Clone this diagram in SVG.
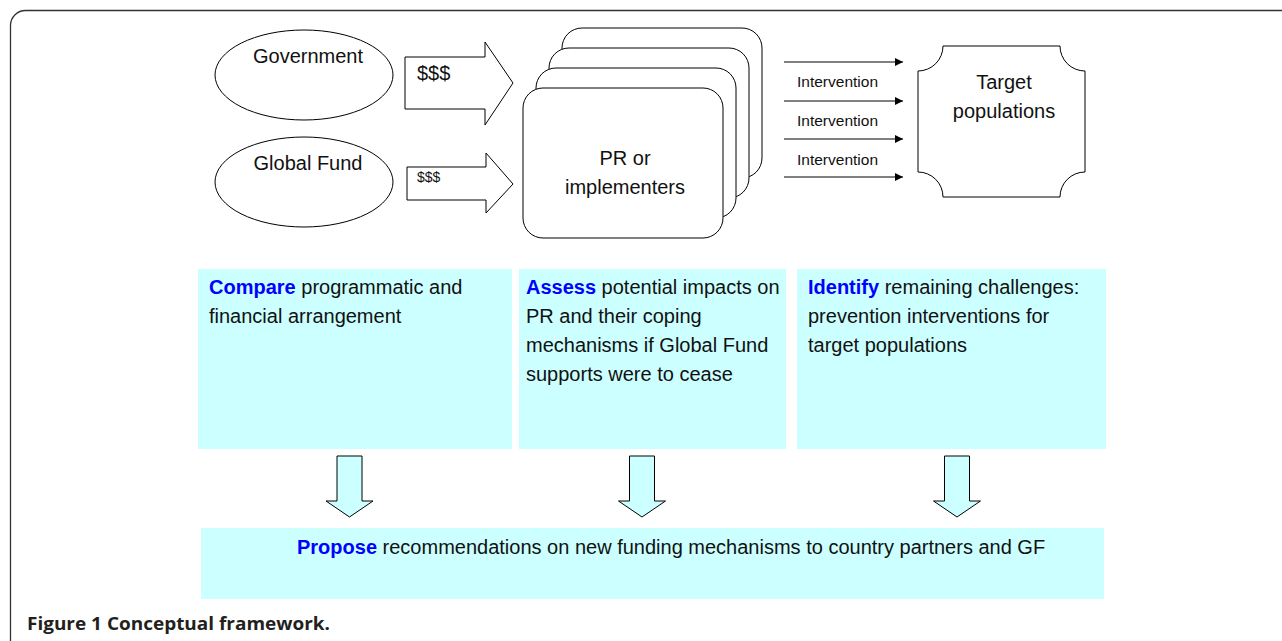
<svg xmlns="http://www.w3.org/2000/svg" width="1282" height="641" viewBox="0 0 1282 641">
<style>
text{font-family:"Liberation Sans",Arial,sans-serif;fill:#111}
.line{fill:none;stroke:#000;stroke-width:1}
.card{fill:#fff;stroke:#000;stroke-width:1}
.box{fill:#ccffff}
.darr{fill:#ccffff;stroke:#000;stroke-width:1}
.t20{font-size:20px}
.b{font-weight:bold;fill:#0000ff}
.iv{font-size:15.5px}
.cap{font-family:"Open Sans","Liberation Sans",sans-serif;font-weight:bold;font-size:17px;fill:#231f20}
</style>
<defs>
<marker id="ah" viewBox="0 0 10 10" refX="10" refY="5" markerWidth="9" markerHeight="8" markerUnits="userSpaceOnUse" orient="auto">
<path d="M0,0 L10,5 L0,10 Z" fill="#000"/>
</marker>
</defs>
<rect width="1282" height="641" fill="#fff"/>
<path d="M10.5,641 L10.5,25 A15,15 0 0 1 25.5,10.5 L1282,10.5" fill="none" stroke="#333" stroke-width="1.3"/>

<g id="government">
<ellipse class="card" cx="304" cy="75" rx="89" ry="45"/>
<text class="t20" x="308" y="63" text-anchor="middle">Government</text>
</g>
<g id="globalfund">
<ellipse class="card" cx="304" cy="182" rx="89" ry="45"/>
<text class="t20" x="308" y="170" text-anchor="middle">Global Fund</text>
</g>
<g id="pr">
<rect class="card" x="562" y="28" width="200" height="150" rx="20"/>
<rect class="card" x="549" y="48" width="200" height="150" rx="20"/>
<rect class="card" x="536" y="68" width="200" height="150" rx="20"/>
<rect class="card" x="523" y="88" width="200" height="150" rx="20"/>
<text class="t20" x="625" y="165" text-anchor="middle">PR or</text>
<text class="t20" x="625" y="194" text-anchor="middle">implementers</text>
</g>
<g id="target">
<path class="card" d="M943,46 L1060,46 A25,25 0 0 0 1085,71 L1085,172 A25,25 0 0 0 1060,197 L943,197 A25,25 0 0 0 918,172 L918,71 A25,25 0 0 0 943,46 Z"/>
<text class="t20" x="1004" y="89" text-anchor="middle">Target</text>
<text class="t20" x="1004" y="118" text-anchor="middle">populations</text>
</g>

<g id="connectors">
<path class="card" d="M405,57 L485,57 L485,42 L513,83 L485,125 L485,109 L405,109 Z"/>
<text class="t20" x="417" y="80">$$$</text>
<path class="card" d="M407,167 L486,167 L486,153 L513,184 L486,213 L486,200 L407,200 Z"/>
<text x="417" y="182" style="font-size:14px">$$$</text>
<line class="line" x1="784" y1="62" x2="903" y2="62" marker-end="url(#ah)"/>
<line class="line" x1="784" y1="101" x2="903" y2="101" marker-end="url(#ah)"/>
<line class="line" x1="784" y1="139" x2="903" y2="139" marker-end="url(#ah)"/>
<line class="line" x1="784" y1="177" x2="903" y2="177" marker-end="url(#ah)"/>
<text class="iv" x="797" y="87">Intervention</text>
<text class="iv" x="797" y="126">Intervention</text>
<text class="iv" x="797" y="165">Intervention</text>
<path class="darr" d="M337,456 L362,456 L362,501 L373,501 L349.5,517 L326,501 L337,501 Z"/>
<path class="darr" d="M629.5,456 L654.5,456 L654.5,501 L665.5,501 L642,517 L618.5,501 L629.5,501 Z"/>
<path class="darr" d="M944.5,456 L969.5,456 L969.5,501 L980.5,501 L957,517 L933.5,501 L944.5,501 Z"/>
</g>

<g id="compare">
<rect class="box" x="198" y="269" width="314" height="180"/>
<text class="t20" x="209" y="294"><tspan class="b">Compare</tspan> programmatic and</text>
<text class="t20" x="209" y="323">financial arrangement</text>
</g>
<g id="assess">
<rect class="box" x="519" y="269" width="267" height="180"/>
<text class="t20" x="526" y="294"><tspan class="b">Assess</tspan> potential impacts on</text>
<text class="t20" x="526" y="323">PR and their coping</text>
<text class="t20" x="526" y="352">mechanisms if Global Fund</text>
<text class="t20" x="526" y="381">supports were to cease</text>
</g>
<g id="identify">
<rect class="box" x="797" y="269" width="309" height="180"/>
<text class="t20" x="808" y="294"><tspan class="b">Identify</tspan> remaining challenges:</text>
<text class="t20" x="808" y="323">prevention interventions for</text>
<text class="t20" x="808" y="352">target populations</text>
</g>
<g id="propose">
<rect class="box" x="201" y="528" width="903" height="71"/>
<text class="t20" x="297" y="554"><tspan class="b">Propose</tspan> recommendations on new funding mechanisms to country partners and GF</text>
</g>
<text class="cap" x="27" y="630" textLength="303" lengthAdjust="spacingAndGlyphs">Figure 1 Conceptual framework.</text>
</svg>
